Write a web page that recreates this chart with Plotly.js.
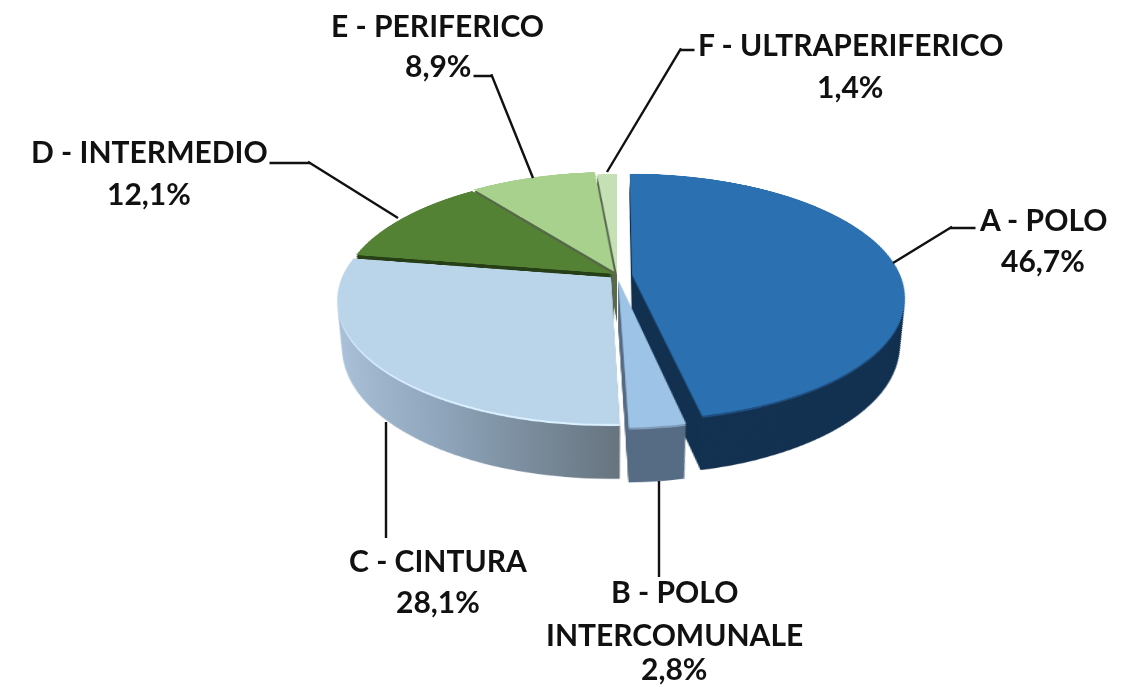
<!DOCTYPE html>
<html><head><meta charset="utf-8">
<script src="https://cdn.plot.ly/plotly-3.0.1.min.js"></script>
<style>
html,body{margin:0;padding:0;background:#fff;overflow:hidden}
#chart{width:1132px;height:687px}
</style></head><body><div id="chart"></div>
<script>
// Data
const categories = ["A - POLO","B - POLO INTERCOMUNALE","C - CINTURA","D - INTERMEDIO","E - PERIFERICO","F - ULTRAPERIFERICO"];
const values = [46.7,2.8,28.1,12.1,8.9,1.4];
// Style
const topColors  = ["#2b71b1","#9dc3e6","#bad5ea","#548235","#a9d18e","#c5e0b4"];
const wallColors = ["#133150","#566c84","#8a9db2","#263f16","#556b47","#5b6a50"];
const rimColors  = ["#1f4f80","#7f9dba","#dcf1ff","#263f16","#556b47","#5b6a50"];
const pulls = [0.057,0.04,0.03,0.02,0.03,0];
const wallDepths = [54,52,50,48,46,44,42,40,38,36,34,32,30,28,26,24,22,20,18,16,14,12,10,8,6,4];
const rimDepth = 2;
// Label lines [text, centre x, centre y]
const labelLines = [
 ["E - PERIFERICO",438,25],["8,9%",438,65],
 ["F - ULTRAPERIFERICO",850,44],["1,4%",850,86],
 ["D - INTERMEDIO",149,151],["12,1%",149,193],
 ["A - POLO",1043,219],["46,7%",1043,260],
 ["C - CINTURA",438,560],["28,1%",438,601],
 ["B - POLO",674,591],["INTERCOMUNALE",674,634],["2,8%",674,668]
];
// Leader segments [x0,y0,x1,y1]
const leaders = [
 [533,178,492,76],[492,76,476,76],
 [607,172,680,50],[680,50,692,50],
 [398,218,310,163],[310,163,272,163],
 [893,263,950,228],[950,228,973,228],
 [386,422,386,536],
 [659,481,659,575]
];
// Geometry of the tilted view
const W=1132,H=687,cx=617,cy=343.5,persp=1325,tilt=63.6,apexY=275,radius=268,tailGap=3;
const half=radius*(1+Math.max(...pulls));
const dom={x:[(cx-half)/W,(cx+half)/W],y:[0.5-half/H,0.5+half/H]};

function pieTrace(colors){
  return {type:"pie",labels:categories,values:values,sort:false,direction:"clockwise",rotation:0,
    pull:pulls,domain:dom,textinfo:"none",hoverinfo:"skip",showlegend:false,
    marker:{colors:colors,line:{width:0}}};
}
const traces=[...wallDepths.map(()=>pieTrace(wallColors)),pieTrace(rimColors),pieTrace(topColors)];
const depths=[...wallDepths,rimDepth,0];

const annotations=[
 ...labelLines.map(l=>({text:"<b>"+l[0]+"</b>",x:l[1]/W,y:1-l[2]/H,xref:"paper",yref:"paper",
   xanchor:"center",yanchor:"middle",showarrow:false,font:{family:"Lato, 'Open Sans', sans-serif",size:30,color:"#111"}})),
 ...leaders.map(s=>{
   const dx=s[2]-s[0],dy=s[3]-s[1],len=Math.hypot(dx,dy);
   return {text:" ",x:s[0]/W,y:1-s[1]/H,xref:"paper",yref:"paper",ax:dx*(1+tailGap/len),ay:dy*(1+tailGap/len),
   showarrow:true,arrowhead:0,arrowwidth:2.4,arrowcolor:"#111",standoff:0,startstandoff:0,borderpad:0,font:{size:1}};})
];

Plotly.newPlot("chart",traces,{width:W,height:H,margin:{l:0,r:0,t:0,b:0},
  paper_bgcolor:"rgba(0,0,0,0)",plot_bgcolor:"rgba(0,0,0,0)",showlegend:false,annotations:annotations},
  {staticPlot:true,displayModeBar:false}).then(gd=>{
  const svgs=gd.querySelectorAll(".main-svg");
  const base=svgs[0];
  base.style.overflow="visible";
  base.style.transformOrigin=cx+"px "+cy+"px";
  base.style.transform="translateY("+(apexY-cy)+"px) perspective("+persp+"px) rotateX("+tilt+"deg)";
  const rad=tilt*Math.PI/180, eyeH=persp*Math.cos(rad), footY=cy+persp*Math.sin(rad);
  // gradient on the wall of slice C
  const ns="http://www.w3.org/2000/svg";
  const defs=base.querySelector("defs")||base.appendChild(document.createElementNS(ns,"defs"));
  const g=document.createElementNS(ns,"linearGradient");g.setAttribute("id","wallC");
  [["0","#aec4dc"],["0.45","#8fa5bb"],["1","#66747f"]].forEach(s=>{const st=document.createElementNS(ns,"stop");
    st.setAttribute("offset",s[0]);st.setAttribute("stop-color",s[1]);g.appendChild(st);});
  defs.appendChild(g);
  base.querySelectorAll(".pielayer .trace").forEach((t,i)=>{
    const f=eyeH/(eyeH+depths[i]);
    t.setAttribute("transform","translate("+cx+" "+footY+") scale("+f+") translate("+(-cx)+" "+(-footY)+")");
    if(wallDepths[i]!==undefined){
      const p=t.querySelectorAll(".slice path")[2];
      if(p)p.style.fill="url(#wallC)";
    }
  });
});
</script></body></html>
